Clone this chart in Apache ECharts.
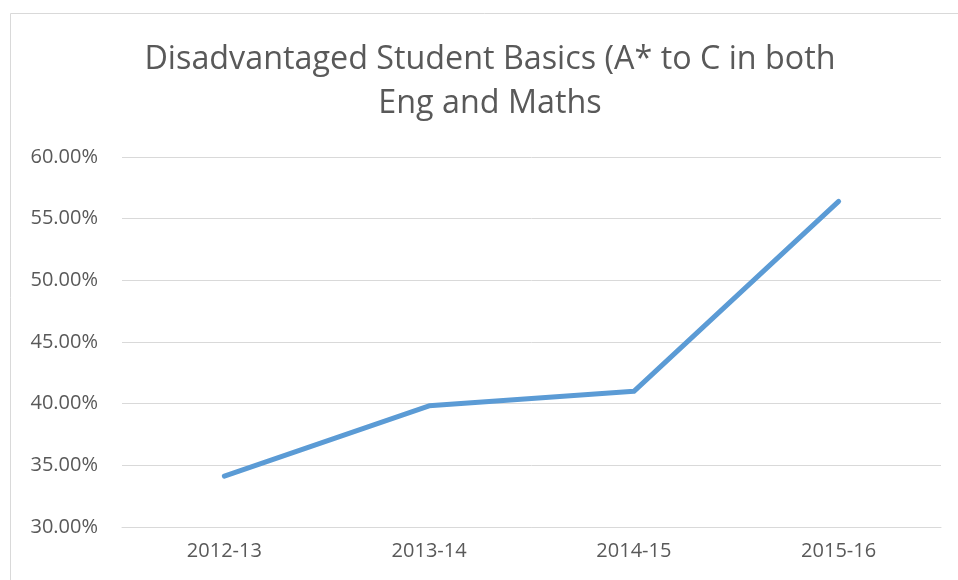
<!DOCTYPE html>
<html><head><meta charset="utf-8">
<script src="https://cdn.jsdelivr.net/npm/echarts@6/dist/echarts.min.js"></script>
<style>html,body{margin:0;padding:0;background:#fff}#c{width:958px;height:580px}</style>
</head><body><div id="c"></div>
<script>
const categories = ['2012-13', '2013-14', '2014-15', '2015-16'];
const values = [34.12, 39.83, 41.0, 56.4];
const titleText = 'Disadvantaged Student Basics (A* to C in both\nEng and Maths';

const chart = echarts.init(document.getElementById('c'));
chart.setOption({
  animation: false,
  graphic: [{
    type: 'rect', silent: true,
    shape: { x: 10.5, y: 13.5, width: 1000, height: 700 },
    style: { fill: 'none', stroke: '#d9d9d9', lineWidth: 1 }
  }],
  title: {
    text: titleText,
    left: 485, top: 33, textAlign: 'center',
    textStyle: { fontFamily: 'Open Sans', fontSize: 32.3, fontWeight: 'normal', color: '#595959', lineHeight: 44 }
  },
  grid: { left: 122, right: 17, top: 157, bottom: 53 },
  xAxis: {
    type: 'category', data: categories, boundaryGap: true,
    axisLine: { lineStyle: { color: '#d9d9d9', width: 1 } },
    axisTick: { show: false },
    axisLabel: { color: '#595959', fontSize: 20, fontFamily: 'Open Sans', margin: 14 }
  },
  yAxis: {
    type: 'value', min: 30, max: 60, interval: 5,
    axisLine: { show: false }, axisTick: { show: false },
    splitLine: { lineStyle: { color: '#d9d9d9', width: 1 } },
    axisLabel: { color: '#595959', fontSize: 20, fontFamily: 'Open Sans', margin: 24,
      formatter: v => v.toFixed(2) + '%' }
  },
  series: [{
    type: 'line', data: values, symbol: 'none',
    lineStyle: { color: '#5b9bd5', width: 5, cap: 'round', join: 'round' }
  }]
});
</script></body></html>
